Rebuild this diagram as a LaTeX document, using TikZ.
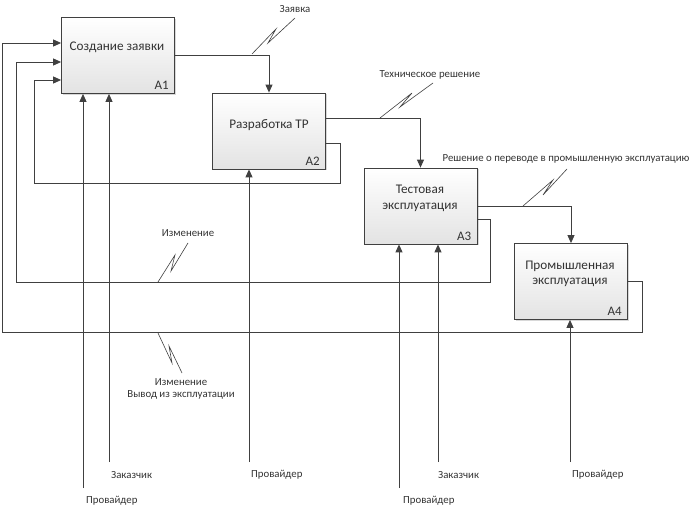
\documentclass[tikz,border=0pt]{standalone}
\usepackage{fontspec}
\setmainfont{Carlito}
\usetikzlibrary{arrows.meta,shadows}
\definecolor{ln}{HTML}{404040}
\definecolor{tx}{HTML}{333333}
\begin{document}
\begin{tikzpicture}[x=1pt,y=-1pt,
  box/.style={draw=ln, line width=0.8pt, top color=white, bottom color=black!11,
    minimum width=113pt, minimum height=76pt, inner sep=0pt,
    drop shadow={shadow xshift=1.5pt,shadow yshift=-1.5pt,opacity=0.3}},
  boxtxt/.style={text=tx, font=\fontsize{13.2}{15.5}\selectfont, align=center, inner sep=0pt},
  numtxt/.style={text=tx, font=\fontsize{13}{15}\selectfont, anchor=base east, inner sep=0pt},
  lbl/.style={text=tx, font=\fontsize{10.8}{12.5}\selectfont, inner sep=0pt, align=center},
  arr/.style={draw=ln, line width=0.9pt, -{Triangle[length=8pt,width=7pt]}},
  con/.style={draw=ln, line width=0.9pt},
  sq/.style={draw=ln, line width=0.6pt}]
\fill[white] (0,0) rectangle (689,508);
\useasboundingbox (0,0) rectangle (689,508);

% boxes
\node[box] (A1) at (118,55.5) {};
\node[box] (A2) at (269,131) {};
\node[box] (A3) at (420.5,206) {};
\node[box] (A4) at (571,281.5) {};

\node[boxtxt] (A1t) at (117,47) {Создание заявки};
\node[boxtxt] (A2t) at (269,125) {Разработка ТР};
\node[boxtxt] (A3t) at (420,198.5) {Тестовая\\эксплуатация};
\node[boxtxt] (A4t) at (570,274) {Промышленная\\эксплуатация};

\node[numtxt] (A1n) at ([xshift=-6pt,yshift=4pt]A1.south east) {A1};
\node[numtxt] (A2n) at ([xshift=-6pt,yshift=4pt]A2.south east) {A2};
\node[numtxt] (A3n) at ([xshift=-6pt,yshift=4pt]A3.south east) {A3};
\node[numtxt] (A4n) at ([xshift=-6pt,yshift=4pt]A4.south east) {A4};

% outputs
\draw[arr] (A1.east) -| (A2.north);
\draw[arr] ([yshift=13pt]A2.east) -| (A3.north);
\draw[arr] (A3.east) -| (A4.north);

% feedback loops
\coordinate (f2a) at (340,183);
\coordinate (f2b) at (34,183);
\draw[arr] ([yshift=-12pt]A2.east) -| (f2a) -- (f2b) |- ([yshift=-24.5pt]A1.west);
\coordinate (f3a) at (490,282);
\coordinate (f3b) at (16,282);
\draw[arr] ([yshift=-13pt]A3.east) -| (f3a) -- (f3b) |- ([yshift=-6.5pt]A1.west);
\coordinate (f4a) at (642,332);
\coordinate (f4b) at (2,332);
\draw[arr] (A4.east) -| (f4a) -- (f4b) |- ([yshift=12.5pt]A1.west);

% mechanisms
\coordinate (m1a) at (83,488);
\coordinate (m1b) at (109,462);
\coordinate (m2) at (249,462);
\coordinate (m3a) at (399,488);
\coordinate (m3b) at (438,462);
\coordinate (m4) at (570,462);
\draw[arr] (m1a) -- (m1a |- A1.south);
\draw[arr] (m1b) -- (m1b |- A1.south);
\draw[arr] (m2) -- (m2 |- A2.south);
\draw[arr] (m3a) -- (m3a |- A3.south);
\draw[arr] (m3b) -- (m3b |- A3.south);
\draw[arr] (m4) -- (m4 |- A4.south);

\node[lbl, anchor=west] (l1a) at (86,501) {Провайдер};
\node[lbl, anchor=west] (l1b) at (111,475) {Заказчик};
\node[lbl, anchor=west] (l2) at (251,475) {Провайдер};
\node[lbl, anchor=west] (l3a) at (403,501) {Провайдер};
\node[lbl, anchor=west] (l3b) at (438,475) {Заказчик};
\node[lbl, anchor=west] (l4) at (572,475) {Провайдер};

% arrow labels with squiggles
\node[lbl] (s1) at (295,9) {Заявка};
\draw[sq] (252,54) -- (276,29) -- (268,43) -- (295,18);
\node[lbl] (s2) at (430,75) {Техническое решение};
\draw[sq] (380,118) -- (412,93) -- (400,107) -- (433,83);
\node[lbl] (s3) at (566,159) {Решение о переводе в промышленную эксплуатацию};
\draw[sq] (523,206) -- (553,180) -- (543,195) -- (567,169);
\node[lbl] (s4) at (188,233) {Изменение};
\draw[sq] (158,282) -- (175,255) -- (171,271) -- (188,243);
\node[lbl] (s5) at (181,389) {Изменение\\Вывод из эксплуатации};
\draw[sq] (158,333) -- (172,363) -- (169,346) -- (182,373);
\end{tikzpicture}
\end{document}
